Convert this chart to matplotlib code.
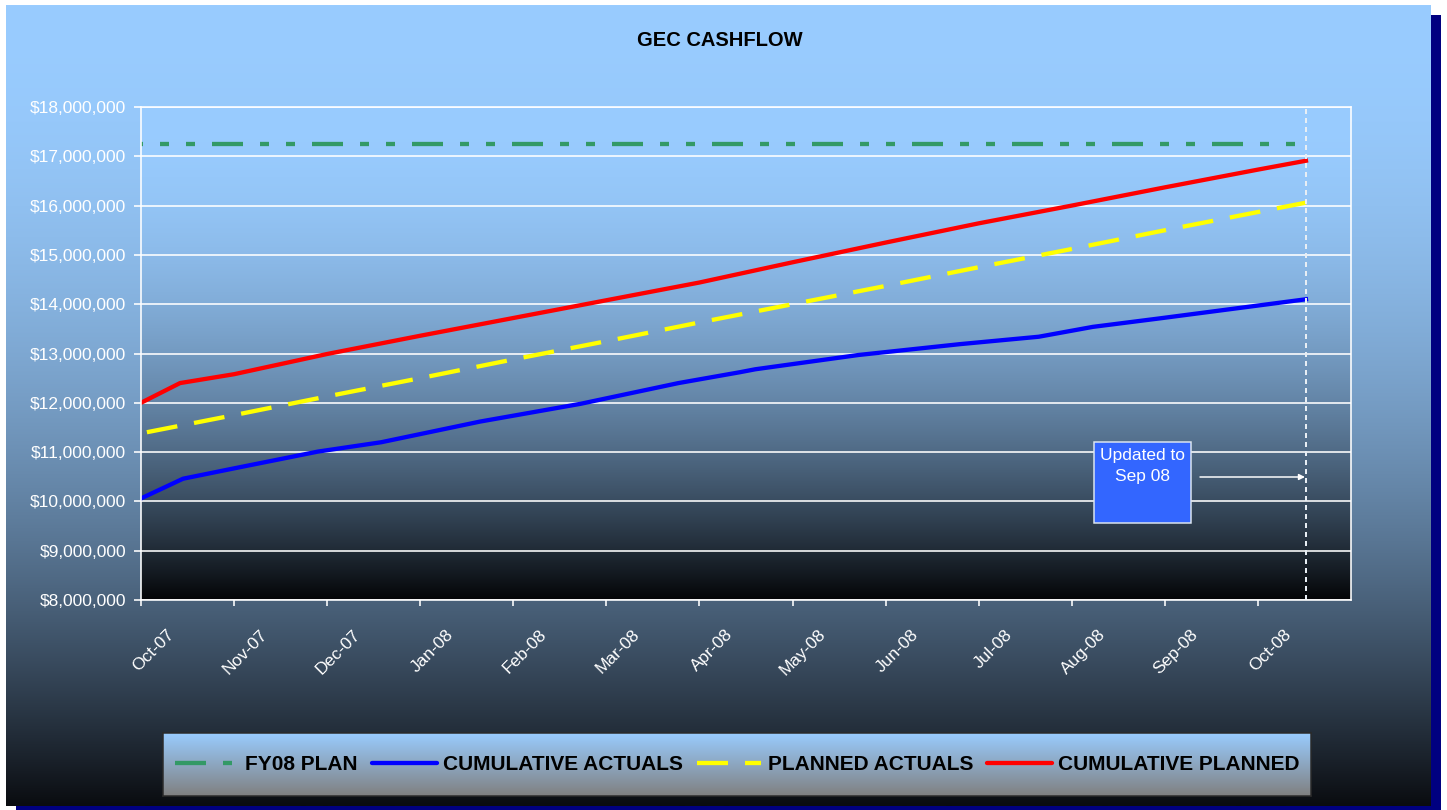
import calendar
import numpy as np
import matplotlib
matplotlib.use("Agg")
import matplotlib.pyplot as plt
from matplotlib.lines import Line2D
from matplotlib.patches import Rectangle, FancyArrowPatch
from matplotlib.transforms import ScaledTranslation
from matplotlib.ticker import FuncFormatter, MultipleLocator

plt.rcParams['font.family'] = ['Liberation Sans', 'DejaVu Sans']
plt.rcParams['lines.scale_dashes'] = False

# ---------------- data ----------------
month_labels = ['Oct-07', 'Nov-07', 'Dec-07', 'Jan-08', 'Feb-08', 'Mar-08', 'Apr-08',
                'May-08', 'Jun-08', 'Jul-08', 'Aug-08', 'Sep-08', 'Oct-08']

fy08_plan_dates = ['2007-10-01', '2008-10-17']
fy08_plan_values = [17250000, 17250000]

cum_actual_dates = ['2007-10-01', '2007-10-15', '2007-11-01', '2007-11-28', '2007-12-19',
                    '2008-01-21', '2008-02-22', '2008-03-25', '2008-04-14', '2008-04-19',
                    '2008-04-27', '2008-05-23', '2008-06-25', '2008-07-21', '2008-08-08',
                    '2008-08-30', '2008-10-17']
cum_actual_values = [10060000, 10460000, 10670000, 11010000, 11200000,
                     11620000, 11980000, 12400000, 12620000, 12680000,
                     12750000, 12970000, 13190000, 13340000, 13540000,
                     13710000, 14100000]

planned_actual_dates = ['2007-10-01', '2007-11-01', '2007-12-01', '2008-01-01', '2008-02-01',
                        '2008-03-01', '2008-04-01', '2008-05-01', '2008-06-01', '2008-07-01',
                        '2008-08-01', '2008-09-01', '2008-10-01', '2008-10-17']
planned_actual_values = [11380000, 11750000, 12130000, 12500000, 12880000,
                         13250000, 13630000, 14000000, 14370000, 14750000,
                         15120000, 15500000, 15870000, 16060000]

cum_planned_dates = ['2007-10-01', '2007-10-14', '2007-11-01', '2007-12-01', '2008-01-01',
                     '2008-02-01', '2008-03-01', '2008-04-01', '2008-05-01', '2008-06-01',
                     '2008-07-01', '2008-08-01', '2008-09-01', '2008-10-01', '2008-10-17']
cum_planned_values = [12000000, 12400000, 12580000, 12990000, 13360000,
                      13720000, 14080000, 14440000, 14850000, 15250000,
                      15640000, 16000000, 16370000, 16730000, 16910000]

updated_to_date = '2008-10-17'

series_labels = ['FY08 PLAN', 'CUMULATIVE ACTUALS', 'PLANNED ACTUALS', 'CUMULATIVE PLANNED']


def month_pos(s):
    y, m, d = map(int, s.split('-'))
    return (y - 2007) * 12 + (m - 10) + (d - 1) / calendar.monthrange(y, m)[1]


def mp(lst):
    return [month_pos(s) for s in lst]


# ---------------- layout helpers ----------------
W, H, DPI = 1447, 810, 100
PT = 72.0 / DPI


def px(v):
    return v * PT


def vgrad(top, bot, power=2.0, n=400):
    f = np.linspace(0, 1, n)[:, None]
    w = 1 - f ** power
    top = np.array(top, float)
    bot = np.array(bot, float)
    c = bot[None, :] + (top - bot)[None, :] * w
    return (c / 255.0).reshape(n, 1, 3)


fig = plt.figure(figsize=(W / DPI, H / DPI), dpi=DPI, facecolor='white')

# background
bg = fig.add_axes([0, 0, 1, 1])
bg.imshow(vgrad((153, 204, 255), (10, 12, 16)), extent=(6, 1431, 806, 5),
          aspect='auto', interpolation='bilinear')
bg.add_patch(Rectangle((1431, 15), 10, 795, facecolor='#000080', edgecolor='none'))
bg.add_patch(Rectangle((16, 806), 1425, 4, facecolor='#000080', edgecolor='none'))
bg.set_xlim(0, W)
bg.set_ylim(H, 0)
bg.axis('off')

# main axes
L, R, T, B = 141, 1351, 107, 600
ax = fig.add_axes([L / W, 1 - B / H, (R - L) / W, (B - T) / H])
ax.set_xlim(0, 13)
ax.set_ylim(8e6, 18e6)
ax.imshow(vgrad((153, 204, 255), (4, 5, 7)), extent=(0, 13, 8e6, 18e6),
          aspect='auto', interpolation='bilinear', zorder=-5)
ax.set_xlim(0, 13)
ax.set_ylim(8e6, 18e6)

ax.yaxis.set_major_locator(MultipleLocator(1e6))
ax.yaxis.set_major_formatter(FuncFormatter(lambda v, p: '${:,.0f}'.format(v)))
ax.set_axisbelow(True)
ax.grid(axis='y', color='white', lw=px(1.6))
ax.grid(axis='x', visible=False)
for s in ax.spines.values():
    s.set_color('white')
    s.set_linewidth(px(1.6))

ax.tick_params(axis='y', direction='out', length=px(7), width=px(1.6), color='white',
               labelcolor='white', labelsize=12.5, pad=px(8))
ax.set_xticks(range(len(month_labels)))
ax.tick_params(axis='x', direction='out', length=px(6), width=px(1.6), color='white',
               labelcolor='white', labelsize=12.5, pad=px(26))
ax.set_xticklabels(month_labels, rotation=45, ha='right', va='center',
                   rotation_mode='anchor')
off = ScaledTranslation(31 / DPI, 0, fig.dpi_scale_trans)
for lab in ax.get_xticklabels():
    lab.set_transform(lab.get_transform() + off)

LW = px(4.3)
green_ls = (px(29), (px(31), px(17), px(9), px(17), px(9), px(17)))
yellow_ls = (px(42), (px(31), px(17)))
ax.plot(mp(fy08_plan_dates), fy08_plan_values, color='#339966', lw=LW,
        linestyle=green_ls, dash_capstyle='butt')
ax.plot(mp(cum_actual_dates), cum_actual_values, color='#0000FF', lw=LW,
        solid_joinstyle='round')
ax.plot(mp(planned_actual_dates), planned_actual_values, color='#FFFF00', lw=LW,
        linestyle=yellow_ls, dash_capstyle='butt')
ax.plot(mp(cum_planned_dates), cum_planned_values, color='#FF0000', lw=LW,
        solid_joinstyle='round')

ax.axvline(month_pos(updated_to_date), color='#E8EEF4', lw=px(2),
           linestyle=(0, (px(5), px(4))))

# title
fig.text(719.5 / W, 1 - 41 / H, 'GEC CASHFLOW', ha='center', va='center',
         fontsize=14.5, fontweight='bold', color='black')

# annotation box
fig.add_artist(Rectangle((1094 / W, 1 - 523 / H), 97 / W, 81 / H, transform=fig.transFigure,
                         facecolor='#3366FF', edgecolor='#DDE6F0', lw=px(1.5)))
fig.text(1142.5 / W, 1 - 455 / H, 'Updated to', ha='center', va='center', color='white',
         fontsize=12.5)
fig.text(1142.5 / W, 1 - 477 / H, 'Sep 08', ha='center', va='center', color='white',
         fontsize=12.5)
fig.add_artist(FancyArrowPatch((1200 / W, 1 - 477 / H), (1305 / W, 1 - 477 / H),
                               transform=fig.transFigure, arrowstyle='-|>',
                               mutation_scale=px(12), color='white', lw=px(1.5),
                               shrinkA=0, shrinkB=0))

# legend box
lg = fig.add_axes([163 / W, 1 - 796 / H, (1311 - 163) / W, (796 - 733) / H])
lg.imshow(vgrad((153, 204, 255), (128, 128, 128), power=1.0), extent=(0, 1, 0, 1),
          aspect='auto', interpolation='bilinear')
lg.set_xlim(0, 1)
lg.set_ylim(0, 1)
lg.set_xticks([])
lg.set_yticks([])
for s in lg.spines.values():
    s.set_color('#2a2a2a')
    s.set_linewidth(px(1.5))

handles = [
    Line2D([], [], color='#339966', lw=LW, linestyle=(0, green_ls[1]), dash_capstyle='butt'),
    Line2D([], [], color='#0000FF', lw=LW, solid_capstyle='round'),
    Line2D([], [], color='#FFFF00', lw=LW, linestyle=(0, yellow_ls[1]), dash_capstyle='butt'),
    Line2D([], [], color='#FF0000', lw=LW, solid_capstyle='round'),
]
fig.legend(handles, series_labels, ncol=4, loc='center',
           bbox_to_anchor=(737 / W, 1 - 765 / H), frameon=False,
           prop={'size': 15, 'weight': 'bold'}, handlelength=3.1,
           handletextpad=0.3, columnspacing=0.67, borderpad=0)

fig.savefig('out.png', dpi=DPI, facecolor='white')
